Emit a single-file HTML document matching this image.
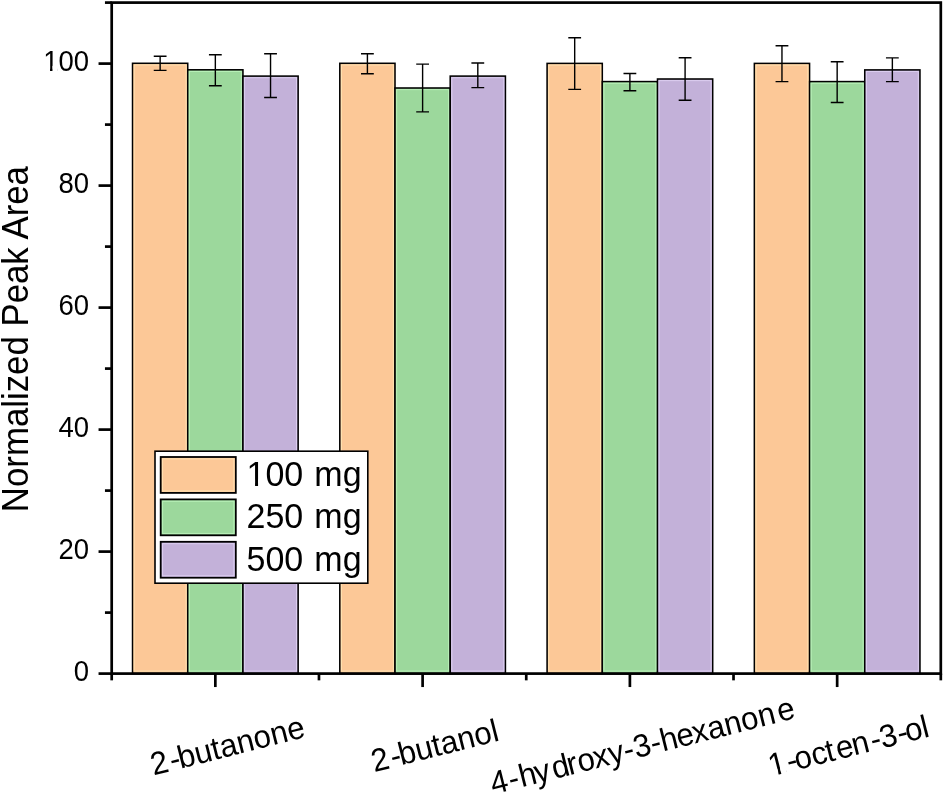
<!DOCTYPE html>
<html><head><meta charset="utf-8"><title>chart</title>
<style>html,body{margin:0;padding:0;background:#fff}svg{display:block;will-change:transform}text{font-family:"Liberation Sans",sans-serif;fill:#000}</style>
</head><body>
<svg width="945" height="796" viewBox="0 0 945 796">
<rect x="0" y="0" width="945" height="796" fill="#fff"/>
<g stroke="#000" stroke-width="1.55">
<rect x="132.54" y="63.30" width="55.20" height="610.30" fill="#FCC897"/>
<rect x="187.74" y="69.80" width="55.20" height="603.80" fill="#9CD89C"/>
<rect x="242.94" y="76.10" width="55.20" height="597.50" fill="#C3B1D9"/>
<rect x="339.81" y="63.30" width="55.20" height="610.30" fill="#FCC897"/>
<rect x="395.01" y="88.00" width="55.20" height="585.60" fill="#9CD89C"/>
<rect x="450.21" y="76.10" width="55.20" height="597.50" fill="#C3B1D9"/>
<rect x="547.09" y="63.40" width="55.20" height="610.20" fill="#FCC897"/>
<rect x="602.29" y="81.60" width="55.20" height="592.00" fill="#9CD89C"/>
<rect x="657.49" y="79.00" width="55.20" height="594.60" fill="#C3B1D9"/>
<rect x="754.36" y="63.40" width="55.20" height="610.20" fill="#FCC897"/>
<rect x="809.56" y="81.60" width="55.20" height="592.00" fill="#9CD89C"/>
<rect x="864.76" y="69.90" width="55.20" height="603.70" fill="#C3B1D9"/>
</g>
<g fill="none" stroke-width="1">
<rect x="134.19" y="64.95" width="51.90" height="606.10" stroke="#FFE6B6" stroke-opacity="0.85"/>
<rect x="189.39" y="71.45" width="51.90" height="599.60" stroke="#BDF5BD" stroke-opacity="0.85"/>
<rect x="244.59" y="77.75" width="51.90" height="593.30" stroke="#E0D3F5" stroke-opacity="0.85"/>
<rect x="341.46" y="64.95" width="51.90" height="606.10" stroke="#FFE6B6" stroke-opacity="0.85"/>
<rect x="396.66" y="89.65" width="51.90" height="581.40" stroke="#BDF5BD" stroke-opacity="0.85"/>
<rect x="451.86" y="77.75" width="51.90" height="593.30" stroke="#E0D3F5" stroke-opacity="0.85"/>
<rect x="548.74" y="65.05" width="51.90" height="606.00" stroke="#FFE6B6" stroke-opacity="0.85"/>
<rect x="603.94" y="83.25" width="51.90" height="587.80" stroke="#BDF5BD" stroke-opacity="0.85"/>
<rect x="659.14" y="80.65" width="51.90" height="590.40" stroke="#E0D3F5" stroke-opacity="0.85"/>
<rect x="756.01" y="65.05" width="51.90" height="606.00" stroke="#FFE6B6" stroke-opacity="0.85"/>
<rect x="811.21" y="83.25" width="51.90" height="587.80" stroke="#BDF5BD" stroke-opacity="0.85"/>
<rect x="866.41" y="71.55" width="51.90" height="599.50" stroke="#E0D3F5" stroke-opacity="0.85"/>
</g>
<g stroke="#000" stroke-width="1.4" fill="none">
<path d="M160.14 56.20V70.40M153.74 56.20H166.54M153.74 70.40H166.54"/>
<path d="M215.34 54.80V85.70M208.94 54.80H221.74M208.94 85.70H221.74"/>
<path d="M270.54 53.70V97.50M264.14 53.70H276.94M264.14 97.50H276.94"/>
<path d="M367.41 53.70V73.80M361.01 53.70H373.81M361.01 73.80H373.81"/>
<path d="M422.61 64.10V111.90M416.21 64.10H429.01M416.21 111.90H429.01"/>
<path d="M477.81 63.00V87.60M471.41 63.00H484.21M471.41 87.60H484.21"/>
<path d="M574.69 37.80V89.40M568.29 37.80H581.09M568.29 89.40H581.09"/>
<path d="M629.89 73.50V90.70M623.49 73.50H636.29M623.49 90.70H636.29"/>
<path d="M685.09 57.70V100.20M678.69 57.70H691.49M678.69 100.20H691.49"/>
<path d="M781.96 45.80V81.60M775.56 45.80H788.36M775.56 81.60H788.36"/>
<path d="M837.16 61.70V102.50M830.76 61.70H843.56M830.76 102.50H843.56"/>
<path d="M892.36 57.90V81.60M885.96 57.90H898.76M885.96 81.60H898.76"/>
</g>
<g stroke="#000" stroke-width="2.7" fill="none" stroke-linecap="butt">
<rect x="111.7" y="2.6" width="829.0999999999999" height="671.00"/>
<path d="M98.55 673.60H111.70"/>
<path d="M104.95 612.60H111.70"/>
<path d="M98.55 551.60H111.70"/>
<path d="M104.95 490.60H111.70"/>
<path d="M98.55 429.60H111.70"/>
<path d="M104.95 368.60H111.70"/>
<path d="M98.55 307.60H111.70"/>
<path d="M104.95 246.60H111.70"/>
<path d="M98.55 185.60H111.70"/>
<path d="M104.95 124.60H111.70"/>
<path d="M98.55 63.60H111.70"/>
<path d="M104.95 2.60H111.70"/>
<path d="M111.70 673.60V680.35"/>
<path d="M215.34 673.60V687.05"/>
<path d="M318.97 673.60V680.35"/>
<path d="M422.61 673.60V687.05"/>
<path d="M526.25 673.60V680.35"/>
<path d="M629.89 673.60V687.05"/>
<path d="M733.52 673.60V680.35"/>
<path d="M837.16 673.60V687.05"/>
<path d="M940.80 673.60V680.35"/>
</g>
<g font-size="27.5" text-anchor="end">
<g transform="translate(89 681.20) scale(1 1.04)"><text>0</text></g>
<g transform="translate(89 559.20) scale(1 1.04)"><text>20</text></g>
<g transform="translate(89 437.20) scale(1 1.04)"><text>40</text></g>
<g transform="translate(89 315.20) scale(1 1.04)"><text>60</text></g>
<g transform="translate(89 193.20) scale(1 1.04)"><text>80</text></g>
<g transform="translate(89 71.20) scale(1 1.04)"><text>100</text><rect x="-44.61" y="-5.10" width="5.64" height="6.18" fill="#fff"/><rect x="-36.54" y="-5.10" width="5.09" height="6.18" fill="#fff"/></g>
</g>
<text font-size="34.8" text-anchor="middle" transform="translate(28.4 339.1) rotate(-90) scale(1 1.045)">Normalized Peak Area</text>
<g font-size="31.2" text-anchor="middle">
<g transform="translate(230.04 756.20) rotate(-14.2) scale(1 1.03)"><text dx="0 2 -2 0 0 0 0 0 0 0">2-butanone</text></g>
<g transform="translate(437.31 756.20) rotate(-14.2) scale(1 1.03)"><text dx="0 2 -2 0 0 0 0 0 0">2-butanol</text></g>
<g transform="translate(644.94 756.11) rotate(-14.2) scale(1 1.03)"><text dx="0 0.8 0.8 -1.6 2.4 -1.9 0.5 -1.0 0 0 0 0 0 -1 -0.9 0 0 0 0 2.6">4-hydroxy-3-hexanone</text></g>
<g transform="translate(850.91 756.44) rotate(-14.2) scale(1 1.03)"><text dx="0 1.4 -2.4 0 -0.9 1.9 -1 2 -0.5 0.5 -2.5 -0.4">1-octen-3-ol</text><rect x="-80.84" y="-5.79" width="6.40" height="7.01" fill="#fff"/><rect x="-71.69" y="-5.79" width="5.77" height="7.01" fill="#fff"/></g>
</g>
<rect x="155" y="451.2" width="212.8" height="132" fill="#fff" stroke="#000" stroke-width="1.6"/>
<rect x="160.7" y="457.00" width="75.1" height="35.9" fill="#FCC897" stroke="#000" stroke-width="1.8"/>
<rect x="162.6" y="458.90" width="71.3" height="32.1" fill="none" stroke="#FFE6B6" stroke-width="1" stroke-opacity="0.85"/>
<g transform="translate(246.5 486.10) scale(1 1.055)"><text font-size="34" dx="0 0 0 0 1.7">100 mg</text><rect x="1.58" y="-6.31" width="6.97" height="7.64" fill="#fff"/><rect x="11.55" y="-6.31" width="6.29" height="7.64" fill="#fff"/></g>
<rect x="160.7" y="499.40" width="75.1" height="35.9" fill="#9CD89C" stroke="#000" stroke-width="1.8"/>
<rect x="162.6" y="501.30" width="71.3" height="32.1" fill="none" stroke="#BDF5BD" stroke-width="1" stroke-opacity="0.85"/>
<g transform="translate(246.5 528.40) scale(1 1.055)"><text font-size="34" dx="0 0 0 0 1.7">250 mg</text></g>
<rect x="160.7" y="541.80" width="75.1" height="35.9" fill="#C3B1D9" stroke="#000" stroke-width="1.8"/>
<rect x="162.6" y="543.70" width="71.3" height="32.1" fill="none" stroke="#E0D3F5" stroke-width="1" stroke-opacity="0.85"/>
<g transform="translate(246.5 570.70) scale(1 1.055)"><text font-size="34" dx="0 0 0 0 1.7">500 mg</text></g>
</svg></body></html>
